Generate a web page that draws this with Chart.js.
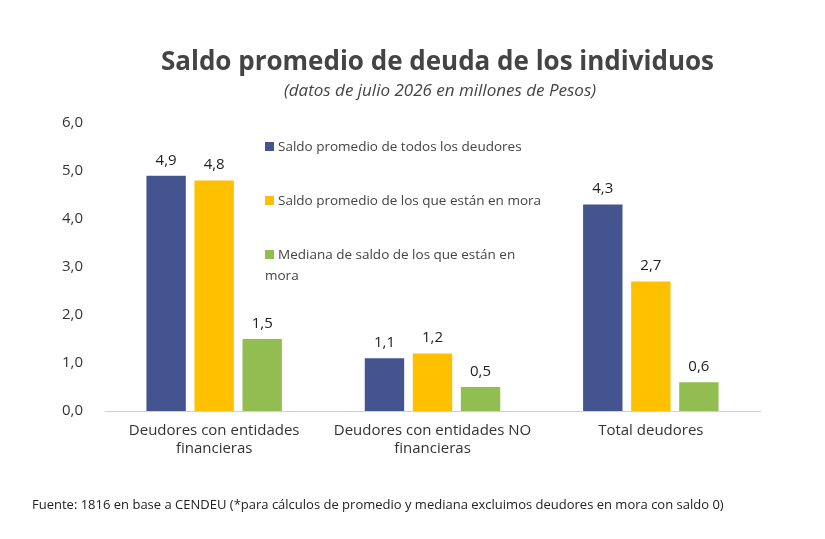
<!DOCTYPE html>
<html>
<head>
<meta charset="utf-8">
<script src="https://cdn.jsdelivr.net/npm/chart.js@4/dist/chart.umd.min.js"></script>
<style>
  body { margin: 0; background: #fff; font-family: "Open Sans", sans-serif; }
  #wrap { position: relative; width: 825px; height: 539px; }
  #title { position: absolute; top: 42px; left: 0; width: 875px; text-align: center; font-size: 26px; font-weight: bold; color: #444; }
  #sub { position: absolute; top: 78px; left: 0; width: 880px; text-align: center; font-size: 17px; font-style: italic; color: #444; }
  #foot { position: absolute; top: 495px; left: 32px; font-size: 13px; color: #222; }
  .leg { position: absolute; left: 265px; font-size: 13.5px; color: #444; line-height: 21px; width: 300px; }
  .leg span { display: inline-block; width: 9px; height: 9px; margin-right: 4px; }
</style>
</head>
<body>
<div id="wrap">
  <canvas id="chart" width="825" height="539"></canvas>
  <div id="title">Saldo promedio de deuda de los individuos</div>
  <div id="sub">(datos de julio 2026 en millones de Pesos)</div>
  <div class="leg" style="top:136px"><span style="background:#44548f"></span>Saldo promedio de todos los deudores</div>
  <div class="leg" style="top:190px"><span style="background:#ffc000"></span>Saldo promedio de los que están en mora</div>
  <div class="leg" style="top:244px"><span style="background:#92bd50"></span>Mediana de saldo de los que están en<br>mora</div>
  <div id="foot">Fuente: 1816 en base a CENDEU (*para cálculos de promedio y mediana excluimos deudores en mora con saldo 0)</div>
</div>
<script>
var categories = [['Deudores con entidades', 'financieras'], ['Deudores con entidades NO', 'financieras'], 'Total deudores'];
var seriesNames = ['Saldo promedio de todos los deudores', 'Saldo promedio de los que están en mora', 'Mediana de saldo de los que están en mora'];
var promedioTodos = [4.9, 1.1, 4.3];
var promedioMora = [4.8, 1.2, 2.7];
var medianaMora = [1.5, 0.5, 0.6];
var colors = ['#44548f', '#ffc000', '#92bd50'];

var valueLabels = {
  id: 'valueLabels',
  afterDatasetsDraw: function (chart) {
    var ctx = chart.ctx;
    ctx.save();
    ctx.font = '15px "Open Sans"';
    ctx.fillStyle = '#222';
    ctx.textAlign = 'center';
    ctx.textBaseline = 'bottom';
    chart.data.datasets.forEach(function (ds, i) {
      chart.getDatasetMeta(i).data.forEach(function (bar, j) {
        ctx.fillText(ds.data[j].toFixed(1).replace('.', ','), bar.x, bar.y - 8);
      });
    });
    ctx.restore();
  }
};

new Chart(document.getElementById('chart'), {
  type: 'bar',
  data: {
    labels: categories,
    datasets: [
      { label: seriesNames[0], data: promedioTodos, backgroundColor: colors[0] },
      { label: seriesNames[1], data: promedioMora, backgroundColor: colors[1] },
      { label: seriesNames[2], data: medianaMora, backgroundColor: colors[2] }
    ]
  },
  options: {
    responsive: false,
    animation: false,
    layout: { padding: { top: 123, left: 48, right: 65, bottom: 78 } },
    plugins: { legend: { display: false }, tooltip: { enabled: false } },
    datasets: { bar: { categoryPercentage: 0.66, barPercentage: 0.82 } },
    scales: {
      x: {
        grid: { display: false },
        border: { color: '#d0d0d0' },
        ticks: { color: '#333', font: { size: 15, family: 'Open Sans' } }
      },
      y: {
        min: 0, max: 6,
        afterFit: function (s) { s.width = 57; },
        grid: { display: false },
        border: { display: false },
        ticks: {
          stepSize: 1, color: '#333', padding: 14,
          font: { size: 15, family: 'Open Sans' },
          callback: function (v) { return v.toFixed(1).replace('.', ','); }
        }
      }
    }
  },
  plugins: [valueLabels]
});
</script>
</body>
</html>
